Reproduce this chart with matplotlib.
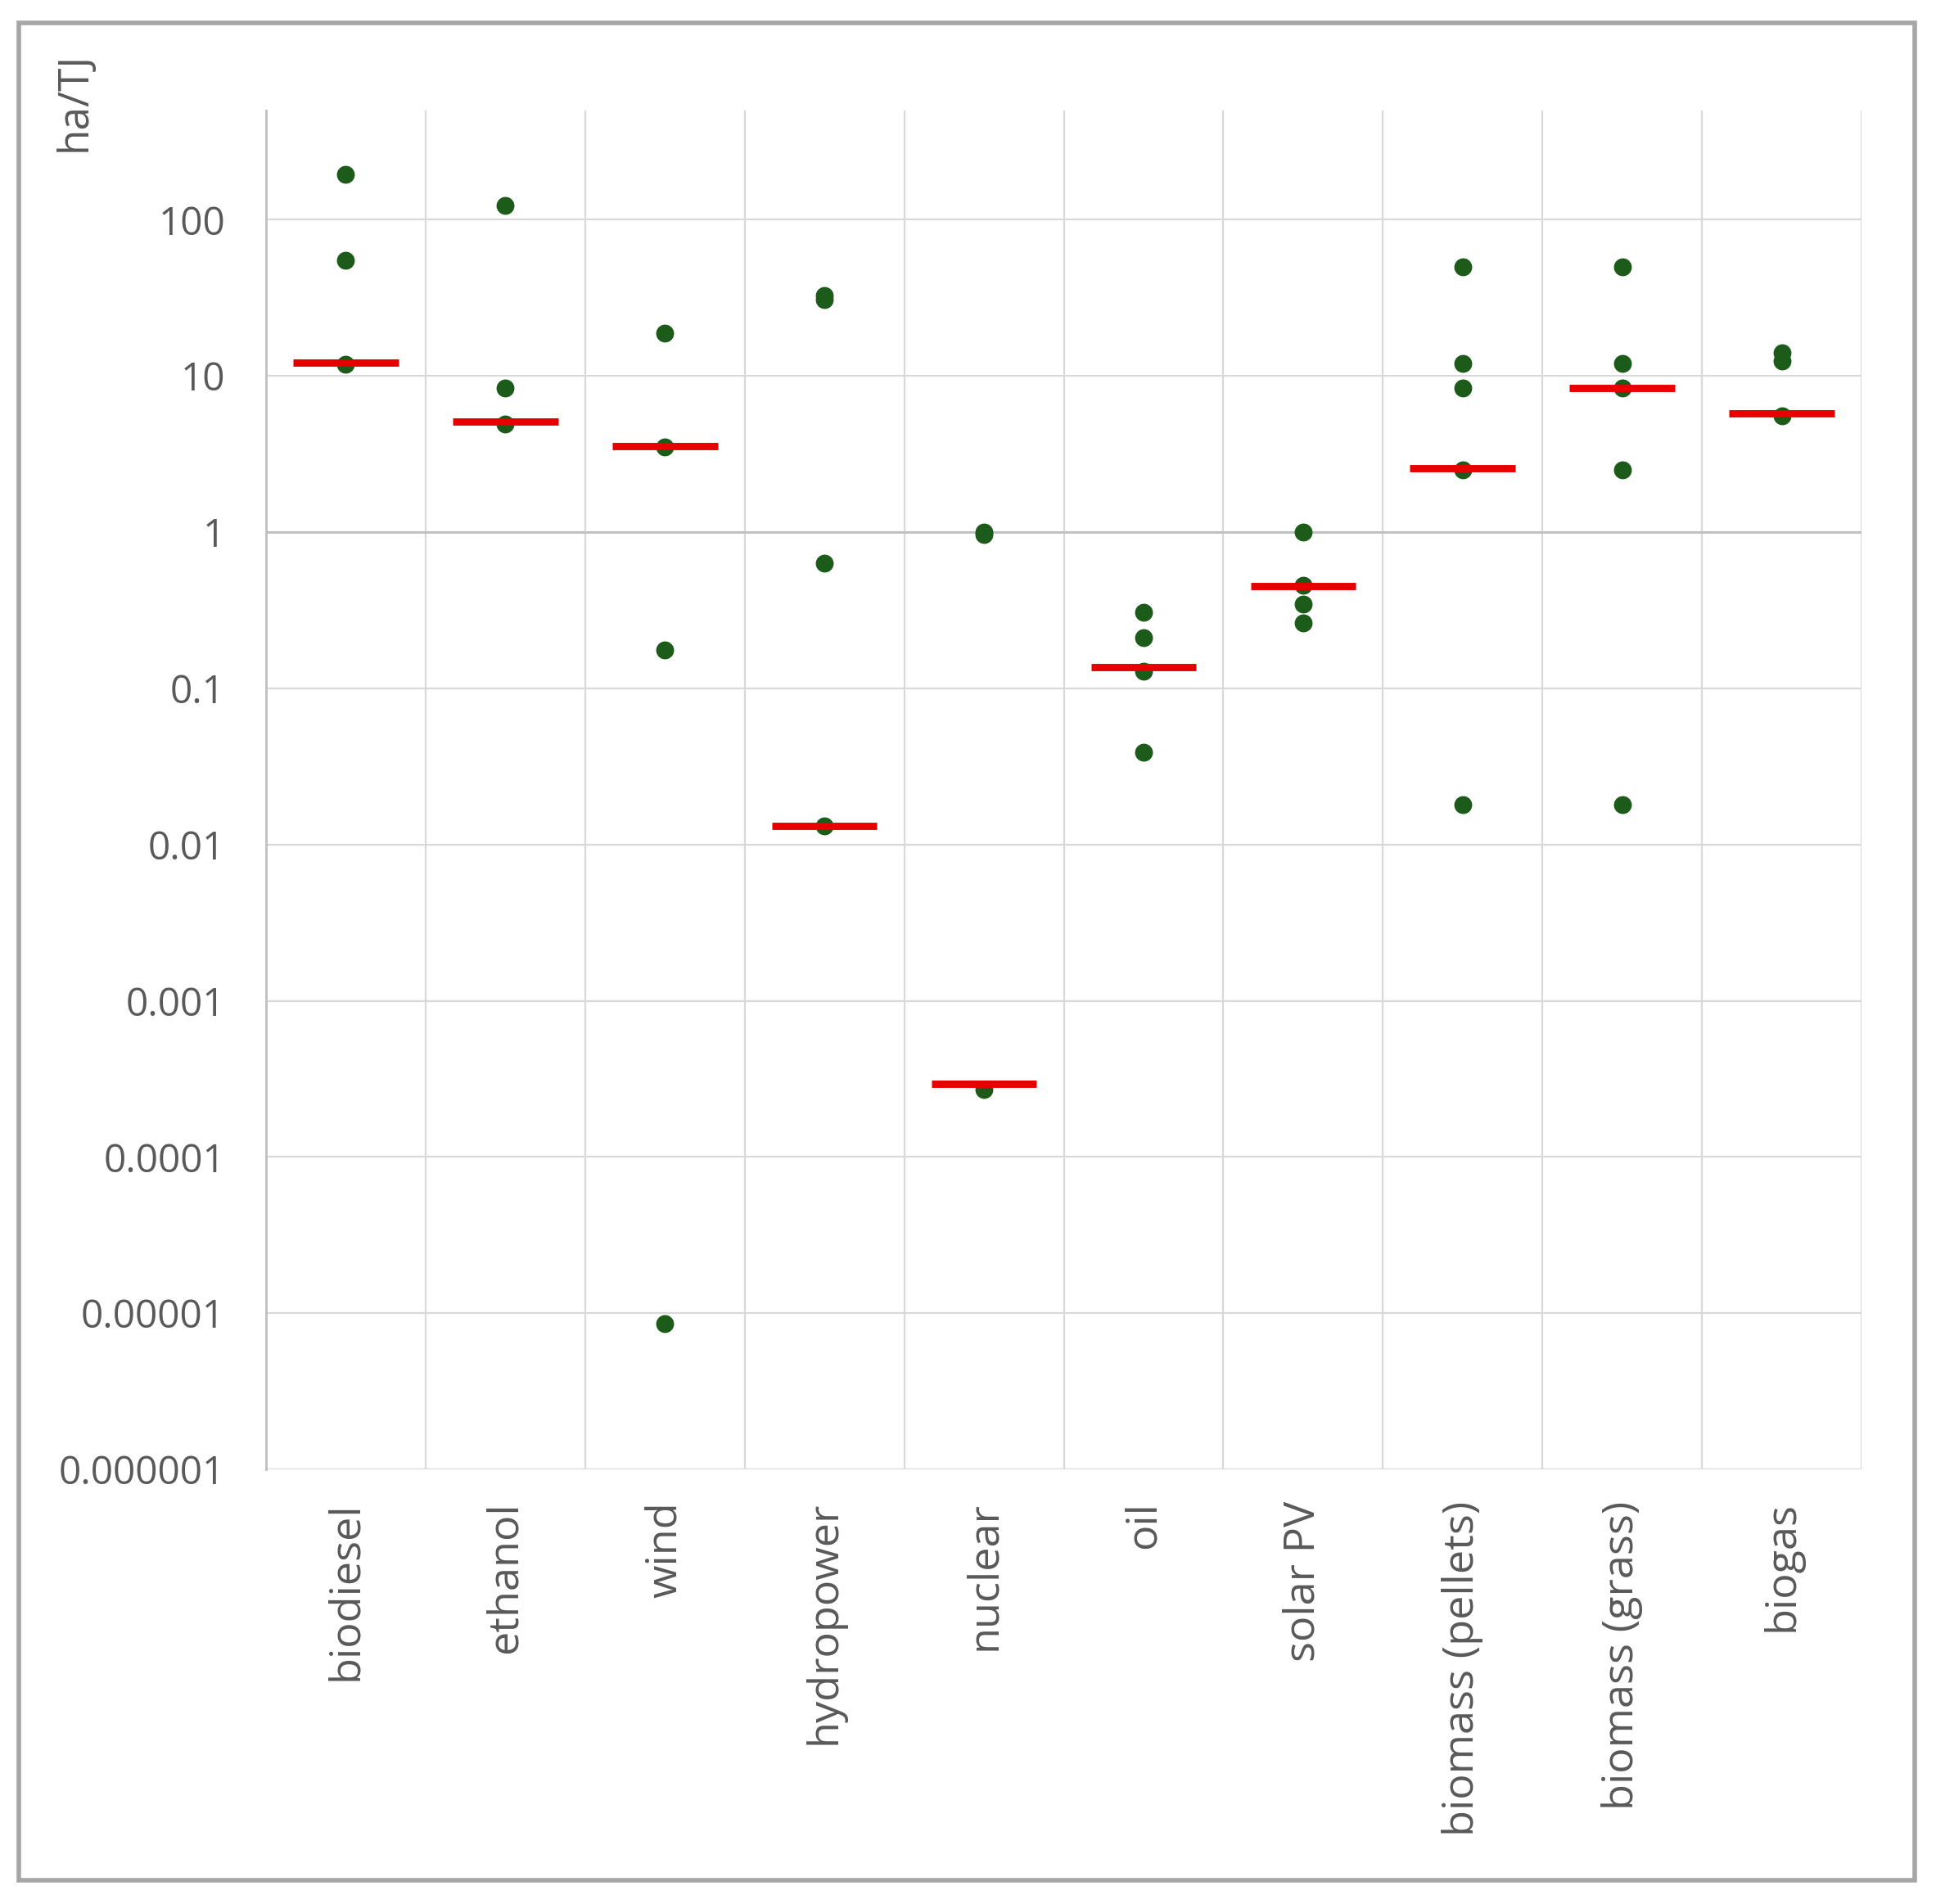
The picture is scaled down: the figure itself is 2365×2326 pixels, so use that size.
import numpy as np
import matplotlib
matplotlib.use("Agg")
import matplotlib.pyplot as plt
from matplotlib.patches import Rectangle

plt.rcParams["font.family"] = ["Open Sans", "DejaVu Sans"]

# ---- data (ha/TJ) ----
categories = ["biodiesel", "ethanol", "wind", "hydropower", "nuclear",
              "oil", "solar PV", "biomass (pellets)", "biomass (grass)", "biogas"]
points = [
    [196, 55, 11.8],
    [124, 8.4, 4.9],
    [18.8, 3.5, 0.177, 8.6e-6],
    [32.8, 30.7, 0.63, 0.0132],
    [1.0, 0.96, 2.7e-4],
    [0.305, 0.21, 0.128, 0.039],
    [1.0, 0.455, 0.344, 0.262],
    [50, 12.0, 8.4, 2.5, 0.018],
    [50, 12.0, 8.4, 2.5, 0.018],
    [14, 12.5, 5.57],
]
medians = [12.1, 5.1, 3.54, 0.0132, 2.94e-4, 0.136, 0.45, 2.56, 8.4, 5.77]
ytick_vals = [1e-6, 1e-5, 1e-4, 1e-3, 1e-2, 1e-1, 1, 10, 100]
ytick_labels = ["0.000001", "0.00001", "0.0001", "0.001", "0.01",
                "0.1", "1", "10", "100"]

GREEN = "#1d5b1a"
RED = "#e60000"
TEXT = "#595959"
GRID = "#d9d9d9"

W, H, DPI = 2365, 2326, 200
fig = plt.figure(figsize=(W / DPI, H / DPI), dpi=DPI)
ax = fig.add_axes([325 / W, 1 - 1795 / H, (2274 - 325) / W, (1795 - 135) / H])

x = np.arange(len(categories))
for i, vals in enumerate(points):
    ax.scatter(np.full(len(vals), x[i]), vals, s=62, color=GREEN,
               zorder=4, linewidths=0)
ax.hlines(medians, x - 0.33, x + 0.33, color=RED, lw=3.2, zorder=5)

ax.set_yscale("log")
ax.set_ylim(1e-6, 500)
ax.set_xlim(-0.5, len(categories) - 0.5)
ax.set_yticks(ytick_vals)
ax.set_yticklabels(ytick_labels)
ax.yaxis.set_minor_locator(matplotlib.ticker.NullLocator())
ax.set_xticks(x)
ax.set_xticklabels(categories, rotation=90, va="top", ha="center")
ax.set_xticks(np.arange(len(categories) + 1) - 0.5, minor=True)

ax.tick_params(axis="y", length=0, pad=18, labelsize=17.2, labelcolor=TEXT)
ax.tick_params(axis="x", which="both", length=0, pad=14, labelsize=18.8,
               labelcolor=TEXT)
ax.grid(True, axis="y", which="major", color=GRID, lw=0.8)
ax.grid(True, axis="x", which="minor", color=GRID, lw=0.8)
ax.axhline(1, color="#bfbfbf", lw=1.0, zorder=1)
ax.set_axisbelow(True)
for side in ["top", "right", "bottom"]:
    ax.spines[side].set_visible(False)
ax.spines["left"].set_color("#bfbfbf")
ax.spines["left"].set_linewidth(1.0)

fig.text(91 / W, 1 - 124 / H, "ha/TJ", rotation=90, ha="center", va="center",
         fontsize=18.5, color=TEXT)

# outer chart border
fig.patches.append(Rectangle((23 / W, 1 - 2297 / H), (2339 - 23) / W,
                             (2297 - 28) / H, transform=fig.transFigure,
                             fill=False, edgecolor="#a6a6a6", lw=2.0))

fig.savefig("out.png", dpi=DPI)
